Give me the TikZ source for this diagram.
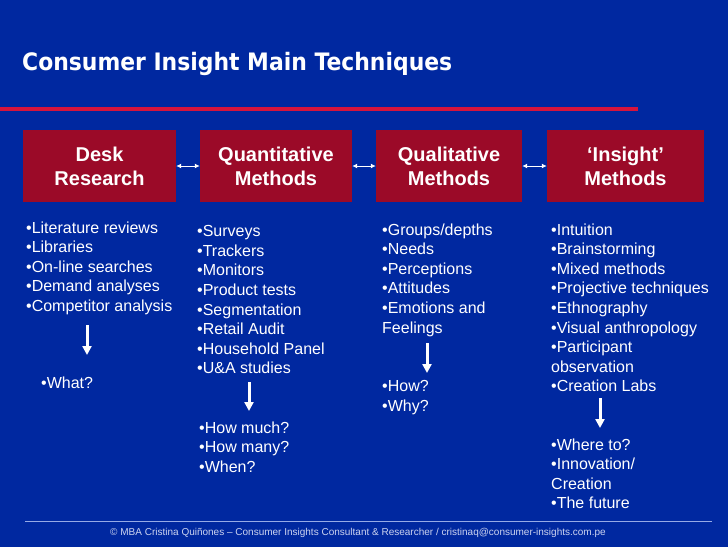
\documentclass[tikz,border=0pt]{standalone}
\usepackage{fontspec}
\setmainfont{Liberation Sans}
\newfontfamily\headfont{DejaVu Sans}
\usepackage{graphicx}
\usetikzlibrary{arrows.meta}

\definecolor{slideblue}{RGB}{0,40,160}
\definecolor{boxred}{RGB}{155,10,40}
\definecolor{rulered}{RGB}{214,20,60}
\definecolor{footblue}{RGB}{150,170,230}
\definecolor{foottext}{RGB}{205,212,240}

\begin{document}
\begin{tikzpicture}[x=1pt, y=-1pt,
    method/.style={fill=boxred, minimum height=72pt, align=center, text=white, inner sep=0pt,
        font=\fontsize{20}{24}\selectfont\bfseries},
    items/.style={anchor=north west, inner sep=0pt, align=left, text=white,
        font=\fontsize{16}{19.6}\selectfont},
    link/.style={{Latex[length=5pt,width=5pt]}-{Latex[length=5pt,width=5pt]}, white, line width=1pt},
    down/.style={-{Triangle[length=9pt,width=9pt]}, white, line width=3pt}
]
\fill[slideblue] (0,0) rectangle (728,547);
\useasboundingbox (0,0) rectangle (728,547);

% heading
\node[anchor=base west, inner sep=0pt, text=white] (title) at (22,70)
    {\resizebox{430pt}{\height}{\headfont\fontsize{24}{28}\selectfont\bfseries Consumer Insight Main Techniques}};
\fill[rulered] (0,107) rectangle (638,111);

% the four groups
\node[method, minimum width=153pt] (desk) at (99.5,166) {Desk\\Research};
\node[method, minimum width=152pt] (quant) at (276,166) {Quantitative\\Methods};
\node[method, minimum width=146pt] (qual) at (449,166) {Qualitative\\Methods};
\node[method, minimum width=157pt] (insight) at (625.5,166) {‘Insight’\\Methods};

\draw[link] (desk) -- (quant);
\draw[link] (quant) -- (qual);
\draw[link] (qual) -- (insight);

% techniques
\node[items] (deskl) at (26,221.3) {•Literature reviews\\•Libraries\\•On-line searches\\•Demand analyses\\•Competitor analysis};
\node[items] (quantl) at (197,225.3) {•Surveys\\•Trackers\\•Monitors\\•Product tests\\•Segmentation\\•Retail Audit\\•Household Panel\\•U\&A studies};
\node[items] (quall) at (382,223.3) {•Groups/depths\\•Needs\\•Perceptions\\•Attitudes\\•Emotions and\\Feelings};
\node[items] (insightl) at (551,223.3) {•Intuition\\•Brainstorming\\•Mixed methods\\•Projective techniques\\•Ethnography\\•Visual anthropology\\•Participant\\observation\\•Creation Labs};

% questions answered
\node[items] (deskq) at (41,376.3) {•What?};
\node[items] (quantq) at (199,421.3) {•How much?\\•How many?\\•When?};
\node[items] (qualq) at (382,380.3) {•How?\\•Why?};
\node[items] (insightq) at (551,438.3) {•Where to?\\•Innovation/\\Creation\\•The future};

\coordinate (d1) at (87,325);   \coordinate (d2) at (87,355);
\coordinate (q1) at (249,382);  \coordinate (q2) at (249,411);
\coordinate (l1) at (427,343);  \coordinate (l2) at (427,373);
\coordinate (i1) at (600,398);  \coordinate (i2) at (600,428);
\draw[down] (d1) -- (d2);
\draw[down] (q1) -- (q2);
\draw[down] (l1) -- (l2);
\draw[down] (i1) -- (i2);

% footer
\draw[footblue, line width=1pt] (25,521) -- (712,521);
\node[text=foottext, font=\fontsize{10}{12}\selectfont] (foot) at (358,533)
    {© MBA Cristina Quiñones – Consumer Insights Consultant \& Researcher / cristinaq@consumer-insights.com.pe};
\end{tikzpicture}
\end{document}
